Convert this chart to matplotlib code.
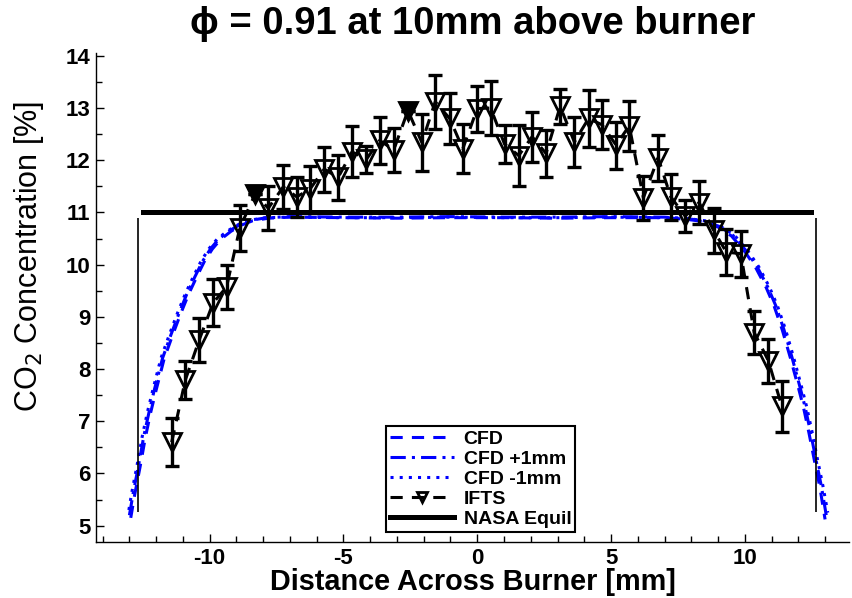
import matplotlib
matplotlib.use("Agg")
import matplotlib.pyplot as plt
from matplotlib.ticker import MultipleLocator

plt.rcParams['font.family'] = ['Liberation Sans', 'DejaVu Sans']
plt.rcParams['axes.unicode_minus'] = False

# IFTS measurements (x in mm, CO2 in %, error bar half-length)
ifts_x = [-11.42, -10.91, -10.39, -9.87, -9.37, -8.87, -8.30, -7.81, -7.25, -6.75,
          -6.26, -5.72, -5.20, -4.68, -4.14, -3.65, -3.12, -2.59, -2.07, -1.57,
          -1.03, -0.54, 0.0, 0.50, 1.02, 1.55, 2.05, 2.57, 3.10, 3.63,
          4.16, 4.66, 5.19, 5.68, 6.21, 6.76, 7.23, 7.77, 8.29, 8.83,
          9.31, 9.85, 10.35, 10.88, 11.38]
ifts_y = [6.60, 7.79, 8.56, 9.27, 9.57, 10.71, 11.35, 11.08, 11.49, 11.30,
          11.44, 11.83, 11.67, 12.16, 12.02, 12.38, 12.20, 12.95, 12.34, 13.12,
          12.80, 12.22, 12.99, 13.00, 12.31, 12.09, 12.45, 12.13, 13.03, 12.35,
          12.80, 12.68, 12.29, 12.66, 11.28, 12.05, 11.30, 10.93, 11.19, 10.66,
          10.24, 10.21, 8.70, 8.16, 7.29]
ifts_err = [0.46, 0.37, 0.42, 0.45, 0.42, 0.44, 0.0, 0.42, 0.42, 0.38,
            0.45, 0.43, 0.43, 0.49, 0.26, 0.45, 0.42, 0.0, 0.55, 0.52,
            0.48, 0.47, 0.44, 0.51, 0.37, 0.59, 0.48, 0.45, 0.33, 0.47,
            0.54, 0.47, 0.45, 0.48, 0.42, 0.44, 0.44, 0.31, 0.42, 0.43,
            0.44, 0.44, 0.41, 0.42, 0.49]
# points drawn with filled markers and no error bar
filled_x = [-8.30, -2.59]
filled_y = [11.35, 12.95]

# CFD profiles
cfd_x = [-12.95, -12.8, -12.6, -12.4, -12.2, -12.0, -11.7, -11.4, -11.1, -10.8,
         -10.5, -10.2, -9.9, -9.6, -9.2, -8.8, -8.4, -7.8, -7.0, -5.0,
         -3.0, -1.0, 1.0, 3.0, 5.0, 7.0, 7.8, 8.4, 9.0, 9.5,
         10.0, 10.4, 10.8, 11.1, 11.4, 11.7, 12.0, 12.2, 12.4, 12.6,
         12.8, 13.0]
cfd_y = [5.15, 5.60, 6.13, 6.70, 7.18, 7.60, 8.20, 8.63, 9.04, 9.42,
         9.75, 10.06, 10.30, 10.48, 10.64, 10.76, 10.84, 10.89, 10.91, 10.90,
         10.89, 10.90, 10.90, 10.89, 10.90, 10.90, 10.87, 10.83, 10.72, 10.55,
         10.25, 9.95, 9.56, 9.20, 8.75, 8.22, 7.65, 7.25, 6.77, 6.25,
         5.75, 5.12]
cfdp_x = [-13.0, -12.86, -12.66, -12.46, -12.26, -12.06, -11.76, -11.46, -11.16, -10.86,
          -10.56, -10.26, -9.96, -9.66, -9.26, -8.86, -8.46, -7.86, -7.0, -5.0,
          -3.0, -1.0, 1.0, 3.0, 5.0, 7.0, 7.86, 8.46, 9.06, 9.56,
          10.06, 10.46, 10.86, 11.16, 11.46, 11.76, 12.06, 12.26, 12.46, 12.66,
          12.86, 13.05]
cfdp_y = [5.20, 5.62, 6.15, 6.72, 7.19, 7.62, 8.21, 8.64, 9.05, 9.43,
          9.76, 10.07, 10.31, 10.49, 10.65, 10.77, 10.85, 10.90, 10.92, 10.91,
          10.91, 10.92, 10.91, 10.91, 10.92, 10.91, 10.88, 10.84, 10.73, 10.56,
          10.26, 9.96, 9.57, 9.21, 8.76, 8.23, 7.66, 7.26, 6.78, 6.26,
          5.76, 5.18]
cfdm_x = [-13.02, -12.92, -12.72, -12.52, -12.32, -12.12, -11.82, -11.52, -11.22, -10.92,
          -10.62, -10.32, -10.02, -9.72, -9.32, -8.92, -8.52, -7.92, -7.0, -5.0,
          -3.0, -1.0, 1.0, 3.0, 5.0, 7.0, 7.92, 8.52, 9.12, 9.62,
          10.12, 10.52, 10.92, 11.22, 11.52, 11.82, 12.12, 12.32, 12.52, 12.72,
          12.92, 13.1]
cfdm_y = [5.30, 5.61, 6.14, 6.71, 7.19, 7.61, 8.21, 8.64, 9.05, 9.43,
          9.76, 10.07, 10.31, 10.49, 10.65, 10.77, 10.85, 10.90, 10.91, 10.90,
          10.90, 10.91, 10.90, 10.90, 10.91, 10.90, 10.88, 10.84, 10.73, 10.56,
          10.26, 9.96, 9.57, 9.21, 8.76, 8.23, 7.66, 7.26, 6.78, 6.26,
          5.76, 5.25]

# NASA equilibrium value and burner edges
nasa_x = [-12.48, 12.46]
nasa_y = [11.0, 11.0]
edge_x = [-12.69, 12.67]
edge_ylo = 5.27
edge_yhi = 10.89

fig = plt.figure(figsize=(8.53, 5.98), dpi=100)
ax = fig.add_axes([0.1125, 0.093, 0.883, 0.818])

l1, = ax.plot(cfd_x, cfd_y, color='blue', linestyle='--', linewidth=2.2, dashes=(4, 3))
l2, = ax.plot(cfdp_x, cfdp_y, color='blue', linestyle='-.', linewidth=2.2, dashes=(5, 2, 1, 2))
l3, = ax.plot(cfdm_x, cfdm_y, color='blue', linestyle=':', linewidth=2.2, dashes=(1, 2))

ax.vlines(edge_x, edge_ylo, edge_yhi, color='black', linewidth=1.2)

ax.errorbar(ifts_x, ifts_y, yerr=ifts_err, fmt='none', ecolor='black',
            elinewidth=2.4, capsize=5, capthick=2.4, zorder=4)
l4, = ax.plot(ifts_x, ifts_y, color='black', linestyle='--', linewidth=2.2,
              dashes=(4, 3), marker='v', markersize=13, markerfacecolor='none',
              markeredgecolor='black', markeredgewidth=2, zorder=5)
ax.plot(filled_x, filled_y, linestyle='none', marker='v', markersize=13,
        color='black', zorder=6)

l5, = ax.plot(nasa_x, nasa_y, color='black', linewidth=3.6, zorder=3)

ax.set_xlim(-14.25, 13.9)
ax.set_ylim(4.68, 14.05)
ax.xaxis.set_major_locator(MultipleLocator(5))
ax.xaxis.set_minor_locator(MultipleLocator(1))
ax.yaxis.set_major_locator(MultipleLocator(1))
ax.yaxis.set_minor_locator(MultipleLocator(0.5))
ax.tick_params(which='major', direction='in', length=6, width=1, labelsize=16, pad=4)
ax.tick_params(which='minor', direction='in', length=4, width=1)
for lab in ax.get_xticklabels() + ax.get_yticklabels():
    lab.set_fontweight('bold')
ax.tick_params(axis='x', pad=4)
ax.spines['top'].set_visible(False)
ax.spines['right'].set_visible(False)
ax.spines['left'].set_linewidth(1)
ax.spines['bottom'].set_linewidth(1)

ax.set_xlabel('Distance Across Burner [mm]', fontsize=20.8, fontweight='bold', labelpad=-1)
ax.set_ylabel('CO$_2$ Concentration [%]', fontsize=22)
ax.yaxis.set_label_coords(-0.066, 0.585)
ax.set_title('ϕ = 0.91 at 10mm above burner', fontsize=27.5, fontweight='bold', pad=14)

leg = ax.legend([l1, l2, l3, l4, l5], ['CFD', 'CFD +1mm', 'CFD -1mm', 'IFTS', 'NASA Equil'],
                loc='lower left', bbox_to_anchor=(0.385, 0.022), fancybox=False,
                framealpha=1, edgecolor='black', borderpad=0.2, labelspacing=0.12,
                handlelength=3.3, handletextpad=0.5, markerscale=0.6,
                borderaxespad=0, prop={'size': 14, 'weight': 'bold'})
leg.get_frame().set_linewidth(1.5)

fig.savefig('out.png', dpi=100)
